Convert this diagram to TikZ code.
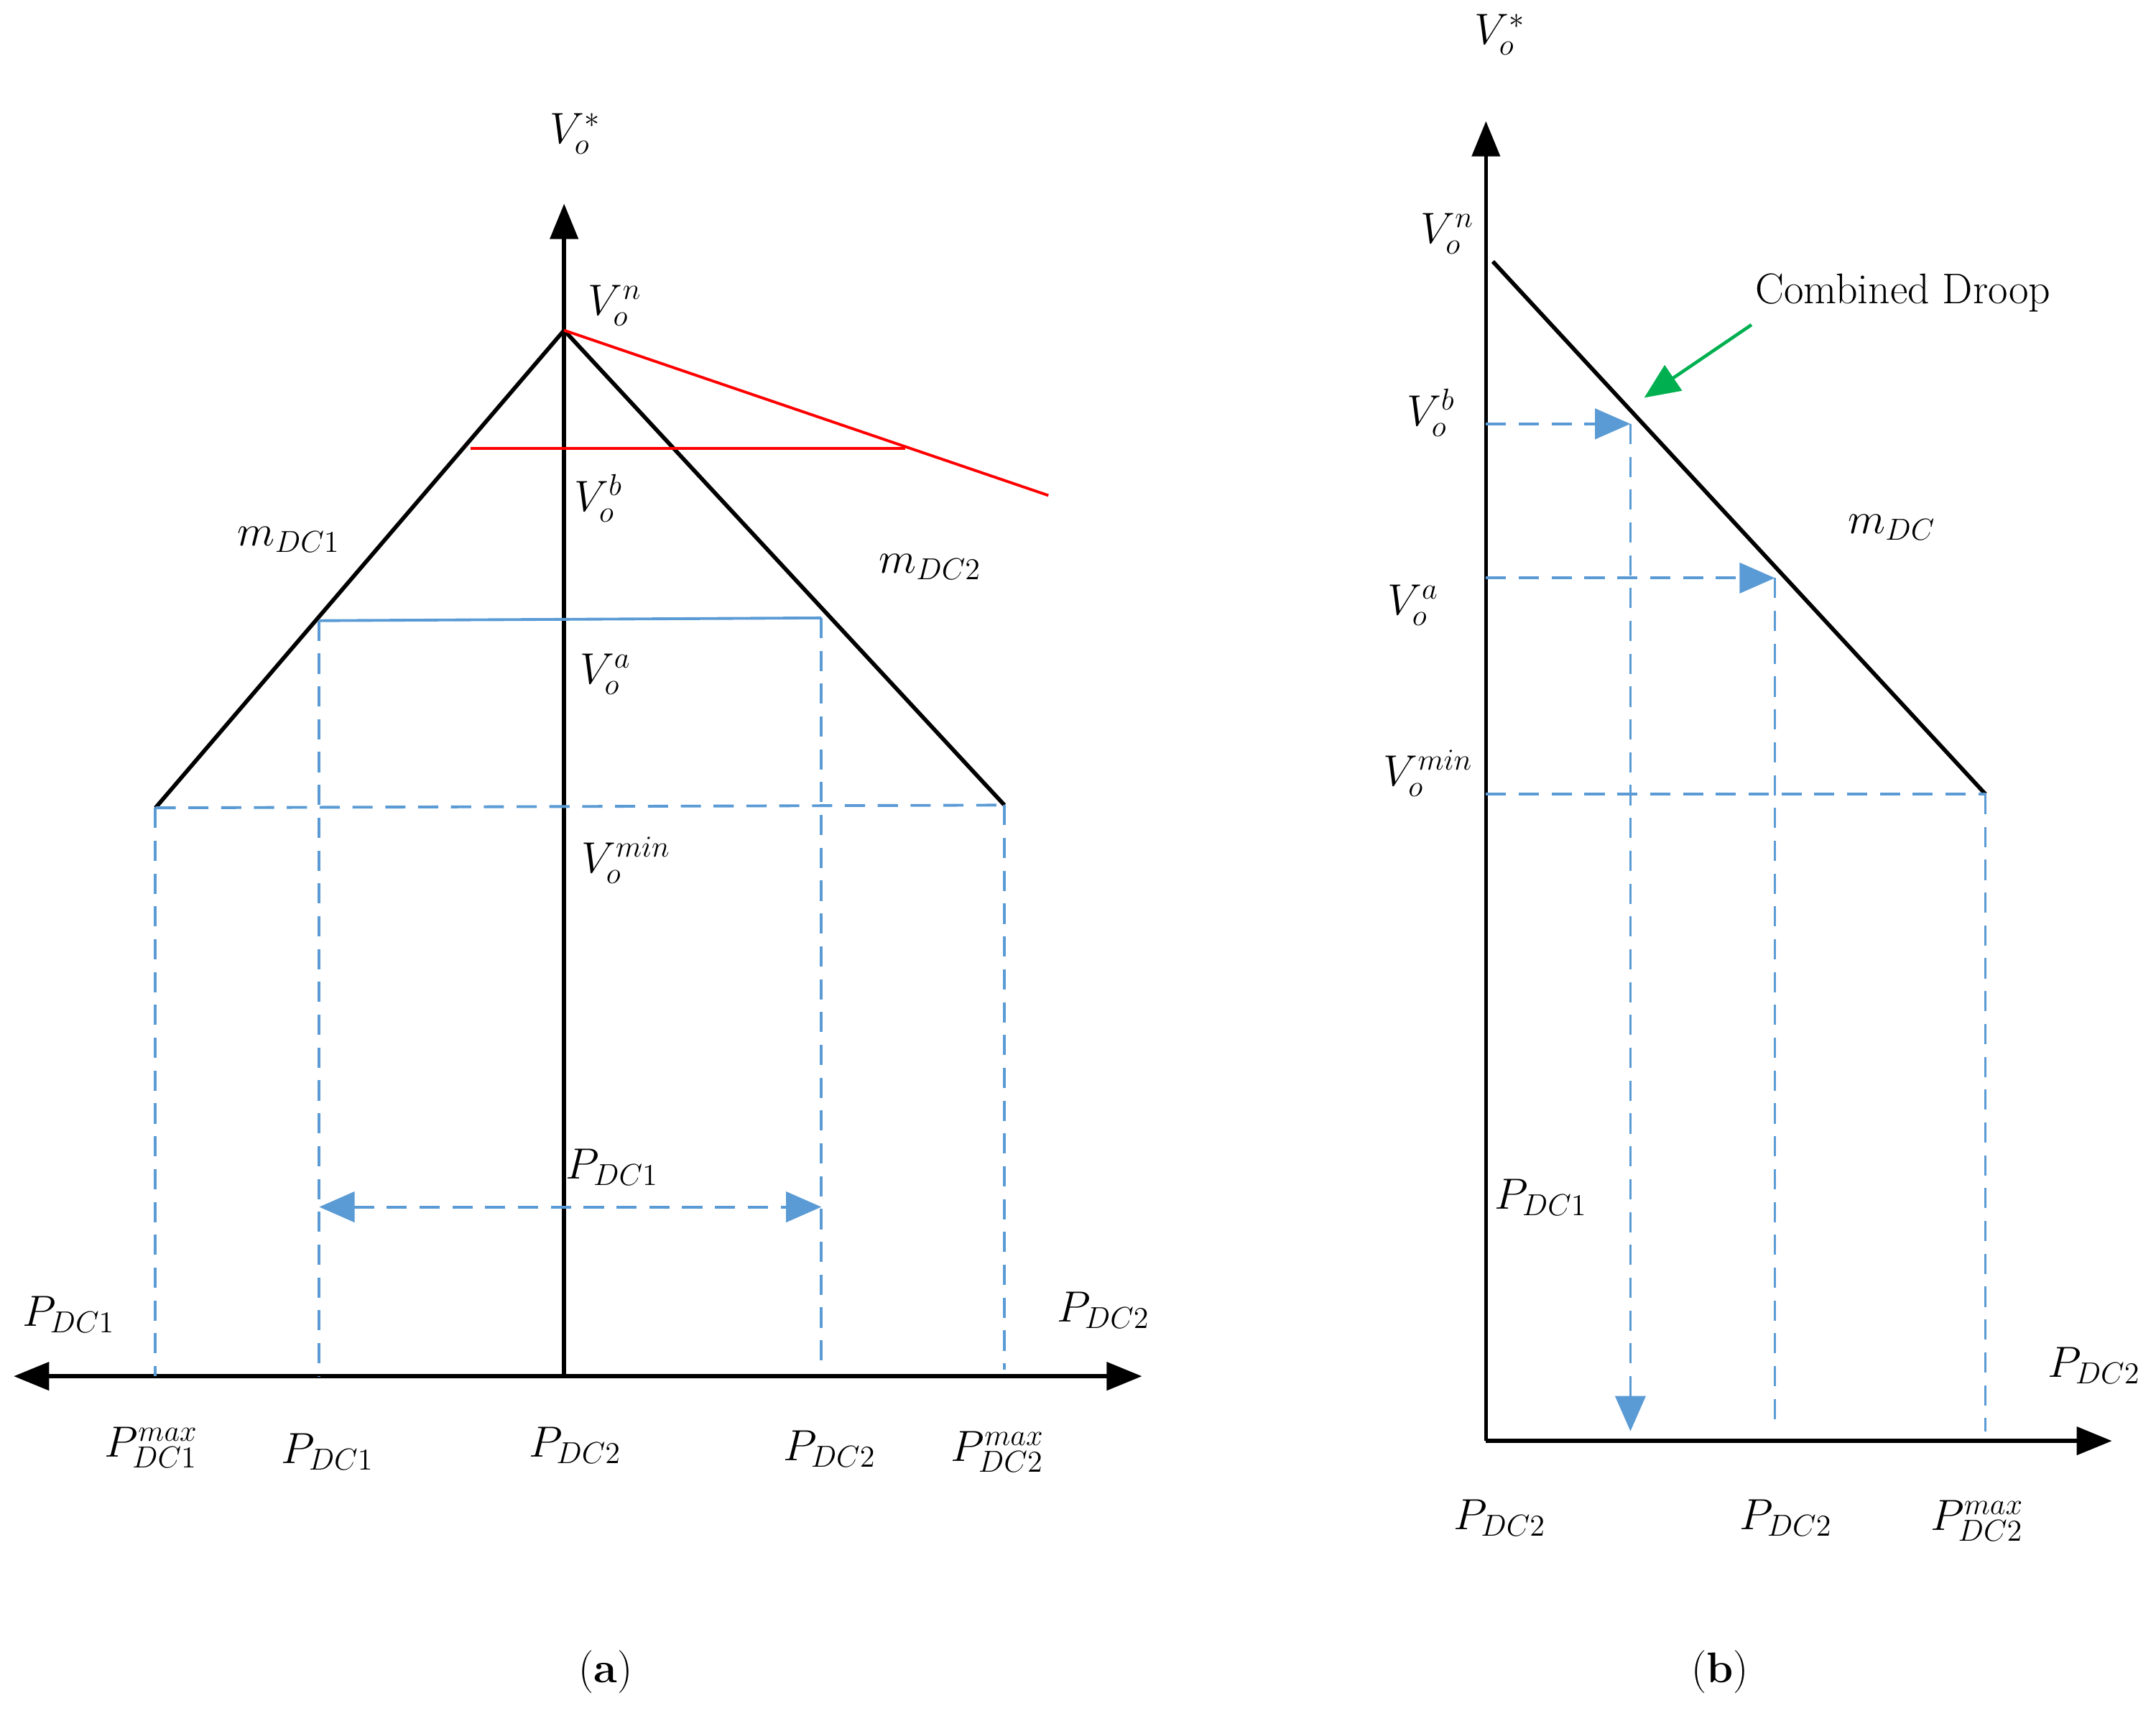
\documentclass[tikz,border=0pt]{standalone}
\usepackage{tikz}
\usetikzlibrary{arrows.meta}
\definecolor{dblue}{RGB}{91,155,213}
\definecolor{dgreen}{RGB}{0,176,80}
\begin{document}
\begin{tikzpicture}[
            x=0.01915cm,y=-0.01915cm,
            every node/.append style={black,font=\fontsize{17}{20}\selectfont},
            axis/.style={line width=1.6pt,-{Triangle[length=14pt,width=11pt]}},
            droop/.style={line width=1.6pt},
            guide/.style={dblue,line width=1.1pt,dash pattern=on 8pt off 5pt},
            tip/.style={-{Triangle[length=14pt,width=12pt]}},
            twotip/.style={{Triangle[length=14pt,width=12pt]}-{Triangle[length=14pt,width=12pt]}}
        ]
            \useasboundingbox (0,0) rectangle (1567,1243);
            % (a)
            \coordinate (ao) at (410,1000);
            \coordinate (atop) at (410,148);
            \coordinate (al) at (10,1000);
            \coordinate (ar) at (830,1000);
            \coordinate (apk) at (410,240);
            \coordinate (amin1) at (113,587);
            \coordinate (amin2) at (730,585);
            \coordinate (aa1) at (232,451);
            \coordinate (aa2) at (597,449);
            \draw[axis] (ao) -- (atop);
            \draw[axis] (ao) -- (al);
            \draw[axis] (ao) -- (ar);
            \draw[droop] (amin1) -- (apk) -- (amin2);
            \coordinate (ared) at (762,360);
            \coordinate (ab1) at (342,326);
            \coordinate (ab2) at (658,326);
            \draw[red,line width=1.1pt] (apk) -- (ared);
            \draw[red,line width=1.1pt] (ab1) -- (ab2);
            \draw[dblue,line width=1.1pt] (aa1) -- (aa2);
            \draw[guide] (amin1) -- (amin2);
            \draw[guide] (amin1) -- (amin1 |- ao);
            \draw[guide] (aa1) -- (aa1 |- ao);
            \draw[guide] (aa2) -- (597,995);
            \draw[guide] (amin2) -- (730,995);
            \coordinate (aq1) at (232,877);
            \coordinate (aq2) at (597,877);
            \draw[guide,twotip] (aq1) -- (aq2);
            \node (avs) at (418,97) {$V_o^*$};
            \node (avn) at (447,222) {$V_o^n$};
            \node (avb) at (435,362) {$V_o^b$};
            \node (ava) at (440,490) {$V_o^a$};
            \node (avm) at (455,625) {$V_o^{min}$};
            \node (am1) at (210,392) {$m_{DC1}$};
            \node (am2) at (676,412) {$m_{DC2}$};
            \node (ap1) at (445,848) {$P_{DC1}$};
            \node (apl) at (50,955) {$P_{DC1}$};
            \node (apr) at (802,952) {$P_{DC2}$};
            \node (ax1) at (110,1052) {$P_{DC1}^{max}$};
            \node (ax2) at (238,1055) {$P_{DC1}$};
            \node (ax3) at (418,1050) {$P_{DC2}$};
            \node (ax4) at (603,1053) {$P_{DC2}$};
            \node (ax5) at (725,1055) {$P_{DC2}^{max}$};
            \node (alab) at (440,1215) {(\textbf{a})};
            % (b)
            \coordinate (bo) at (1080,1047);
            \coordinate (btop) at (1080,88);
            \coordinate (br) at (1535,1047);
            \coordinate (bn) at (1085,190);
            \coordinate (bm) at (1443,577);
            \draw[axis] (bo) -- (btop);
            \draw[axis] (bo) -- (br);
            \draw[droop] (bn) -- (bm);
            \draw[guide] (1080,577) -- (bm);
            \draw[guide] (bm) -- (1443,1040);
            \coordinate (bb) at (1185,308);
            \coordinate (ba) at (1290,420);
            \draw[guide,tip] (1080,308) -- (bb);
            \draw[guide,tip] (bb) -- (1185,1040);
            \draw[guide,tip] (1080,420) -- (ba);
            \draw[guide] (ba) -- (1290,1040);
            \coordinate (bg1) at (1273,236);
            \coordinate (bg2) at (1195,289);
            \draw[dgreen,line width=1.3pt,tip] (bg1) -- (bg2);
            \node (bvs) at (1090,25) {$V_o^*$};
            \node (bvn) at (1052,170) {$V_o^n$};
            \node (bcd) at (1383,213) {Combined Droop};
            \node (bvb) at (1040,300) {$V_o^b$};
            \node (bmd) at (1375,383) {$m_{DC}$};
            \node (bva) at (1027,440) {$V_o^a$};
            \node (bvm) at (1038,562) {$V_o^{min}$};
            \node (bp1) at (1120,870) {$P_{DC1}$};
            \node (bpr) at (1522,992) {$P_{DC2}$};
            \node (bx1) at (1090,1103) {$P_{DC2}$};
            \node (bx2) at (1298,1103) {$P_{DC2}$};
            \node (bx3) at (1437,1105) {$P_{DC2}^{max}$};
            \node (blab) at (1250,1215) {(\textbf{b})};
        \end{tikzpicture}
\end{document}
